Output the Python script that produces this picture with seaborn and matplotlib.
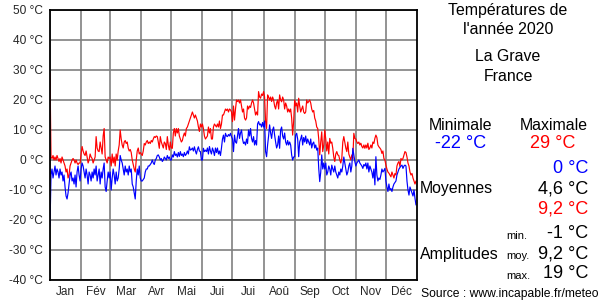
import matplotlib
matplotlib.use("Agg")
import numpy as np
import pandas as pd
import seaborn as sns
import matplotlib.pyplot as plt

# ---- data: daily max / min temperatures 2020, La Grave ----
max_jan = [29, 1, 0.5, 1.5, 0, 1, 0, 1.5, 0.5, -0.5, 0.5, -1, 1, 0, -1, -2, -4, -3, -6, -5, -2, -1, 0, 0.5, 0, -1, 0, -1, -1.5, -1, -1]
max_feb = [2, 4.5, 3, 2, 1.5, 3, 1, -1, 0, 2, 1, 0.5, -1, 0, 1, 7.8, 4, 3, 2.8, 6, 4, 2, 8, 10.5, 1, 0, -1, 1, 0.5]
max_mar = [1, -2, 2, -1, 1, -2, 2, 0, 3, 5, 10, 7, 5, 4, 6, 6.5, 5.5, 6, 4, 3, 3.5, 2.5, 0, -1.5, -3, -4, 0, 3, 4, 2, 2.5]
max_apr = [2, 1.5, 3, 5.5, 5, 6, 6.5, 5.5, 6, 5.5, 6.5, 6, 7, 7.8, 7.5, 8, 7.8, 6, 3.9, 7.8, 6, 5, 4, 6, 5.5, 3.5, 7.8, 5, 3.3, 6]
max_mai = [4, 3.9, 9, 10.5, 8, 10.5, 9, 10.5, 8, 7, 6, 6.5, 8, 9, 8, 10.5, 11, 12, 13, 14, 15, 16, 15, 14, 15, 14, 13, 11, 9.5, 12, 11]
max_jun = [12, 10.5, 8, 7, 7.5, 8, 11, 9, 10.5, 7, 7, 11, 12, 11.5, 11, 12, 11, 13, 10.5, 12, 15, 15, 16, 17, 16.5, 17, 16, 17, 16.7, 16]
max_jul = [12.8, 18, 13.3, 17, 20, 19.5, 20, 19, 20, 18, 16, 17, 14, 13.3, 14, 18, 17, 18, 17.5, 19, 20, 19, 17, 15, 16, 15, 22.8, 21, 20.6, 22, 21.5]
max_aou = [22.8, 21, 12.8, 10.5, 21.7, 21, 20, 21, 19.5, 21, 20, 18, 17, 19, 20, 17, 21.7, 20, 19.4, 21, 20, 17, 19, 18, 16, 17, 16, 17, 14, 8.3, 13]
max_sep = [20, 18, 19, 16, 20.6, 18, 16, 17, 18, 16, 15.5, 16, 20, 19, 19.5, 20, 19, 17, 16, 16.5, 14, 13, 11, 10.5, 7, 1.7, 6, 9.4, 2.8, 5]
max_oct = [10, 7, 3, 6, 2, 7.2, 5.6, 6, 3.9, 1, -0.5, 2, 2.8, 1.7, 1.5, 0, -1, 0.5, 6, 7.8, 6, 4, 2.8, 6, 2, 1, 0, 1.7, 0.5, 8.9, 7.2]
max_nov = [7, 6, 5.5, 6, 5, 5.6, 4.5, 4, 5, 3.9, 5, 4, 5.6, 3.5, 4, 5, 4, 6, 5.5, 7.2, 8.3, 7.5, 5, 4.4, 4, 3.5, 2.2, 3, 0.5, 0]
max_dec = [-1.7, -3, -4, -4.4, -5, -5.6, -4, -5, -6, -4.5, -5, -2, -1, -0.5, -2.2, 0.5, 0, 0.5, 1.7, 2.8, 2.5, 1, -1, -2, -4, -5, -4.5, -6, -7, -8, -7]

min_jan = [-22, -5, -3, -6, -4, -2, -5, -3, -4, -6, -3, -5, -4, -7, -5, -9, -12, -13, -11, -8, -5, -4, -7, -6, -8, -5, -9, -4, -2, -5, -7]
min_feb = [-3, -1, -2, -4, -6, -3, -5, -8, -4, -5, -7, -4, -6, -3, -5, -2, -7, -5, -3, -8, -4, -6, -3, -1, -9, -10.5, -7, -4, -6]
min_mar = [-4, -10, -6, -3, -5, -8, -4, -7, -6, -3, 1.5, 0, -1, -3, -5, -2, -4, -3, -5, -2, -4, -3, -8, -9, -11, -13, -7, -3, -5, -2, -6]
min_apr = [-7, -7, -6.5, -6, -4, -3, -3, -2, -2, -1.5, -1, 0, -1, -1.5, 0, 0.5, 1.5, 1.7, 1, 0, 0.5, -0.5, 0, 1, 0.5, 0, 1.5, 0.5, 1, 0]
min_mai = [0, 1.7, 1, 2.8, 1.5, 2, 1, 2.5, 1.2, 2.8, 1.5, 2, 1.1, 2.5, 1.5, 2, 3, 2, 4.4, 3.3, 3.5, 4, 3, 4.4, 3, 2, 3.5, 4.4, 3, 2.8, 0]
min_jun = [0, 3.9, 2.8, 3.3, 2.8, 4, 2, 4.5, 3, 2, 4, 3, 1.5, 4, 2.5, 4, 2, 3, 1.5, 4, 7, 8.3, 6, 8.9, 8, 7.8, 8.5, 8, 8.9, 7.8]
min_jul = [7, 2.8, 8.3, 6, 5.6, 8, 10.5, 7.2, 9, 10, 7, 5.5, 6, 5, 7, 5.5, 10, 8, 10.5, 7.2, 6, 7.8, 5, 6.5, 5, 12, 12.8, 11.7, 12, 11, 12.5]
min_aou = [11, 13, 2.8, 1.1, 5, 8, 11.7, 9, 7.2, 10, 11, 8.3, 6, 4, 5, 8, 3.9, 10, 11, 8, 7, 9, 6, 5, 6.5, 5, 6, 5, 1.7, 0, 1]
min_sep = [1.1, 8.3, 8.9, 7, 1.1, 6, 7, 8.3, 5, 7.5, 6, 8, 5.5, 7, 6, 5, 7, 4, 5.5, 6, 4, 5, 3.3, 4, -2.8, -7.2, -4, 1.7, -3, -1]
min_oct = [-3, -1, -5, -4, -2, -3, -5, -1.7, -3, -4, -2, -4, -5, -6, -4, -5, -3, -4, -2, 1, -1, -3, -5, -4, -2, -1, -4, -2, 3.9, 1.7, -0.5]
min_nov = [-2, -1, -0.5, 0, -1, -1.5, -2, -2.8, -1.5, -2, -1, -3, -1, -4, -2, -3, -4, -6, -3, -8.3, 1.1, -5, -7, -6, -6.5, -5, -3, -4, -3.5, -2.8]
min_dec = [-7, -9, -10.5, -8, -10, -9.5, -10.5, -9, -8, -7.5, -7, -5, -4, -3, -2.5, -2, -1.7, -2.8, -2, -1.7, -2, -7, -10, -11.7, -9, -10, -11, -12, -10, -12.8, -15]

month_labels = ["Jan", "Fév", "Mar", "Avr", "Mai", "Jui", "Jui", "Aoû", "Sep", "Oct", "Nov", "Déc"]
month_days = [31, 29, 31, 30, 31, 30, 31, 31, 30, 31, 30, 31]
y_ticks = [-40, -30, -20, -10, 0, 10, 20, 30, 40, 50]

tmax = (max_jan + max_feb + max_mar + max_apr + max_mai + max_jun +
        max_jul + max_aou + max_sep + max_oct + max_nov + max_dec)
tmin = (min_jan + min_feb + min_mar + min_apr + min_mai + min_jun +
        min_jul + min_aou + min_sep + min_oct + min_nov + min_dec)

df = pd.DataFrame({"jour": np.arange(len(tmax)), "tmax": tmax, "tmin": tmin})

sns.set_style("white")
plt.rcParams["font.family"] = ["Liberation Sans", "DejaVu Sans"]

W, H = 600, 300
fig = plt.figure(figsize=(6, 3), dpi=100)
ax = fig.add_axes([50 / W, 20 / H, 367 / W, 270 / H])

sns.lineplot(data=df, x="jour", y="tmax", color="#ff0000", lw=0.85, ax=ax)
sns.lineplot(data=df, x="jour", y="tmin", color="#0000ff", lw=0.85, ax=ax)

starts = np.concatenate([[0], np.cumsum(month_days)[:-1]])
mids = starts + np.array(month_days) / 2.0
ax.set_xlim(0, sum(month_days))
ax.set_ylim(-40, 50)
ax.set_xticks(starts)
ax.set_xticklabels([])
ax.set_xticks(mids, minor=True)
ax.set_xticklabels(month_labels, minor=True, fontsize=8.5)
ax.set_yticks(y_ticks)
ax.set_yticklabels([f"{v} °C" for v in y_ticks], fontsize=8.6)
ax.tick_params(which="both", length=0)
ax.tick_params(axis="y", pad=5)
ax.tick_params(axis="x", which="minor", pad=4)
ax.grid(True, which="major", color="#808080", lw=1.2)
ax.set_axisbelow(True)
ax.set_xlabel("")
ax.set_ylabel("")
for s in ax.spines.values():
    s.set_color("black")
    s.set_linewidth(1.3)


def t(x, y, s, size=11.4, color="black", ha="center"):
    fig.text(x / W, 1 - y / H, s, fontsize=size, color=color, ha=ha, va="center")


t(508, 10, "Températures de")
t(508, 30, "l'année 2020")
t(508, 57, "La Grave")
t(508, 76, "France")
t(460, 125, "Minimale")
t(554, 125, "Maximale")
t(461, 143, "-22 °C", size=13, color="#0000ff")
t(553, 143, "29 °C", size=13, color="#ff0000")
t(588, 168, "0 °C", size=13, color="#0000ff", ha="right")
t(420, 189, "Moyennes", ha="left")
t(588, 189, "4,6 °C", size=13, ha="right")
t(588, 209, "9,2 °C", size=13, color="#ff0000", ha="right")
t(506, 236, "min.", size=8, ha="left")
t(588, 234, "-1 °C", size=13, ha="right")
t(420, 255, "Amplitudes", ha="left")
t(506, 256, "moy.", size=8, ha="left")
t(588, 254, "9,2 °C", size=13, ha="right")
t(506, 276, "max.", size=8, ha="left")
t(588, 274, "19 °C", size=13, ha="right")
t(421, 294, "Source : www.incapable.fr/meteo", size=8.7, ha="left")

fig.savefig("out.png", dpi=100)
